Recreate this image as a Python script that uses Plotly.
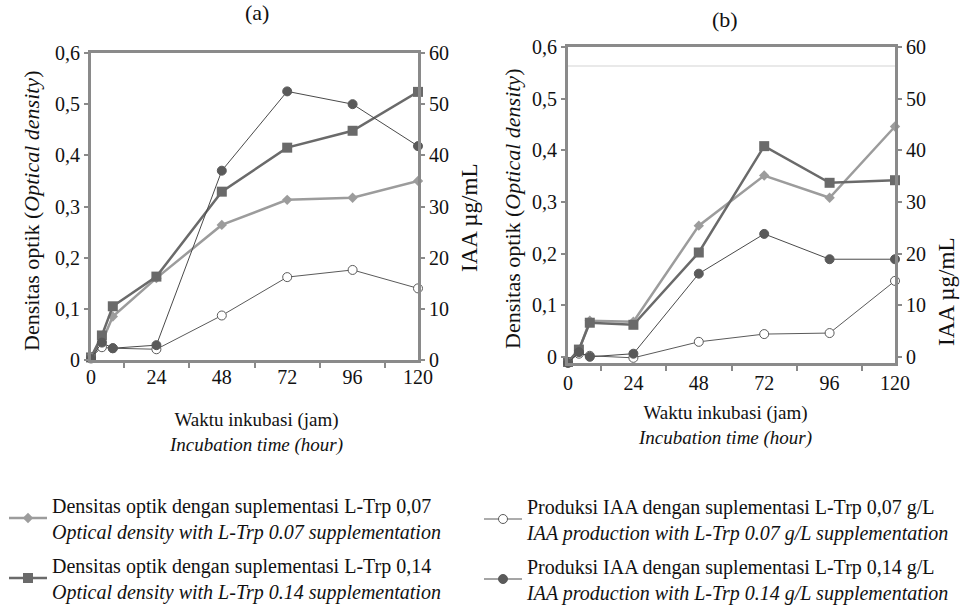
import plotly.graph_objects as go

# ---------------- data ----------------
hours = [0, 4, 8, 24, 48, 72, 96, 120]
x_ticks = [0, 24, 48, 72, 96, 120]

# Panel (a)
od_007_a = [0.005, 0.035, 0.085, 0.160, 0.264, 0.313, 0.317, 0.350]
od_014_a = [0.005, 0.048, 0.105, 0.163, 0.329, 0.415, 0.448, 0.524]
iaa_007_a = [0.5, 2.5, 2.3, 2.1, 8.7, 16.2, 17.6, 14.0]
iaa_014_a = [0.3, 3.4, 2.3, 2.9, 37.0, 52.5, 50.0, 41.8]

# Panel (b)
od_007_b = [-0.010, 0.012, 0.070, 0.068, 0.254, 0.351, 0.308, 0.446]
od_014_b = [-0.010, 0.014, 0.066, 0.062, 0.202, 0.408, 0.337, 0.342]
iaa_007_b = [-1.0, 0.6, 0.2, -0.2, 2.9, 4.4, 4.6, 14.7]
iaa_014_b = [-1.2, 0.9, 0.0, 0.6, 16.1, 23.8, 18.9, 18.9]

names = [
    "Densitas optik dengan suplementasi L-Trp 0,07<br><i>Optical density with L-Trp 0.07 supplementation</i>",
    "Densitas optik dengan suplementasi L-Trp 0,14<br><i>Optical density with L-Trp 0.14 supplementation</i>",
    "Produksi IAA dengan suplementasi L-Trp 0,07 g/L<br><i>IAA production with L-Trp 0.07 g/L supplementation</i>",
    "Produksi IAA dengan suplementasi L-Trp 0,14 g/L<br><i>IAA production with L-Trp 0.14 g/L supplementation</i>",
]

W, H = 965, 610
FONT = "Liberation Serif, 'Times New Roman', Times, serif"
AX = "#8a8a8a"
TXT = "#111"

def px_x(p):
    return p / W

def px_y(p):
    return 1 - p / H

styles = [
    dict(mode="lines+markers", line=dict(color="#9c9c9c", width=2.5),
         marker=dict(symbol="diamond", size=8, color="#9c9c9c")),
    dict(mode="lines+markers", line=dict(color="#6a6a6a", width=2.5),
         marker=dict(symbol="square", size=10, color="#6a6a6a")),
    dict(mode="lines+markers", line=dict(color="#5a5a5a", width=1),
         marker=dict(symbol="circle", size=9, color="white", line=dict(color="#5a5a5a", width=1))),
    dict(mode="lines+markers", line=dict(color="#4a4a4a", width=1),
         marker=dict(symbol="circle", size=9, color="#5a5a5a", line=dict(color="#5a5a5a", width=1))),
]

fig = go.Figure()

legend_ids = ["legend", "legend3", "legend2", "legend4"]
panels = [
    ("x", "y", "y2", [od_007_a, od_014_a, iaa_007_a, iaa_014_a], True),
    ("x2", "y3", "y4", [od_007_b, od_014_b, iaa_007_b, iaa_014_b], False),
]
for xa, ya, ya2, series, show in panels:
    for i, vals in enumerate(series):
        yref = ya if i < 2 else ya2
        fig.add_trace(go.Scatter(
            x=hours, y=vals, xaxis=xa, yaxis=yref, name=names[i],
            showlegend=show, legend=legend_ids[i], cliponaxis=False,
            **styles[i]))

tickfont = dict(family=FONT, size=20, color=TXT)

def xaxis(domain, anchor, standoff):
    return dict(domain=domain, anchor=anchor, range=[0, 120], tickvals=x_ticks,
                ticks="", showline=True, linecolor=AX, linewidth=3, mirror=True,
                showgrid=False, zeroline=False, tickfont=tickfont,
                ticklabelstandoff=standoff, automargin=False,
                minor=dict(ticks="outside", tick0=12, dtick=24, ticklen=5,
                           tickcolor=AX, tickwidth=1.5))

def yaxis(domain, anchor, rng, dtick, side="left", overlay=None):
    d = dict(domain=domain, anchor=anchor, range=rng, dtick=dtick, tick0=0,
             ticks="outside", ticklen=4, tickcolor=AX, tickwidth=1.5,
             showline=True, linecolor=AX, linewidth=3, showgrid=False,
             zeroline=False, tickfont=tickfont, side=side, automargin=False)
    if overlay:
        d["overlaying"] = overlay
    return d

xa_dom = [px_x(91), px_x(418)]
ya_dom = [px_y(360), px_y(53)]
xb_dom = [px_x(568), px_x(895)]
yb_dom = [px_y(363), px_y(47)]

fig.update_layout(
    width=W, height=H, margin=dict(l=0, r=0, t=0, b=0, autoexpand=False),
    paper_bgcolor="white", plot_bgcolor="white",
    separators=",.",
    font=dict(family=FONT, size=18, color=TXT),
    xaxis=xaxis(xa_dom, "y", -3),
    yaxis=yaxis(ya_dom, "x", [0, 0.6], 0.1),
    yaxis2=yaxis(ya_dom, "x", [0, 60], 10, side="right", overlay="y"),
    xaxis2=xaxis(xb_dom, "y3", 0),
    yaxis3=yaxis(yb_dom, "x2", [-0.012, 0.6], 0.1),
    yaxis4=yaxis(yb_dom, "x2", [-1.2, 60], 10, side="right", overlay="y3"),
)

leg_common = dict(orientation="v", xanchor="left", yanchor="middle",
                  bgcolor="rgba(0,0,0,0)", itemwidth=38,
                  font=dict(family=FONT, size=20, color=TXT))
fig.update_layout(
    legend=dict(x=px_x(4), y=px_y(518), **leg_common),
    legend2=dict(x=px_x(479), y=px_y(519), **leg_common),
    legend3=dict(x=px_x(4), y=px_y(578), **leg_common),
    legend4=dict(x=px_x(479), y=px_y(579), **leg_common),
)

# faint line artifact in panel (b)
fig.add_shape(type="line", xref="x2", yref="y3", x0=0, x1=120, y0=0.563, y1=0.563,
              line=dict(color="#e2e2e2", width=1.5))

def ann(text, x, y, angle=0, size=18):
    fig.add_annotation(text=text, x=px_x(x), y=px_y(y), xref="paper", yref="paper",
                       showarrow=False, textangle=angle, xanchor="center", yanchor="middle",
                       font=dict(family=FONT, size=size, color=TXT))

ann("(a)", 257, 13, size=22)
ann("(b)", 725, 19, size=22)
ann("Densitas optik (<i>Optical density</i>)", 32, 211, -90, size=22)
ann("IAA µg/mL", 469, 218, -90, size=23)
ann("Densitas optik (<i>Optical density</i>)", 513, 209, -90, size=22)
ann("IAA µg/mL", 946, 292, -90, size=23)
ann("Waktu inkubasi (jam)<br><i>Incubation time (hour)</i>", 256, 432, size=19)
ann("Waktu inkubasi (jam)<br><i>Incubation time (hour)</i>", 725, 425, size=19)

fig.write_html("out.html",
               config={"displayModeBar": False},
               post_script="document.body.style.margin='0';document.body.style.overflow='hidden';")
